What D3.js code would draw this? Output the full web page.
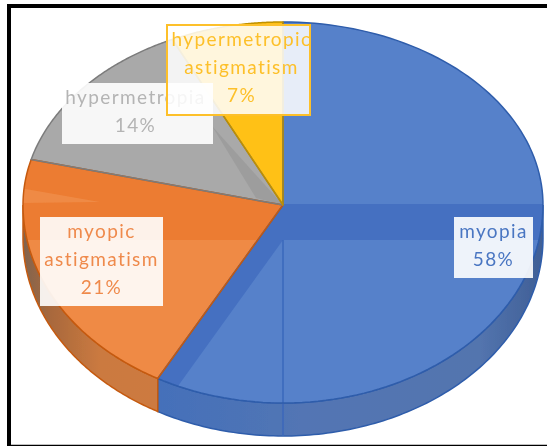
<!DOCTYPE html>
<html>
<head>
<meta charset="utf-8">
<script src="https://cdn.jsdelivr.net/npm/d3@7"></script>
<style>
    html, body { margin: 0; padding: 0; background: #fff; overflow: hidden; }
    svg { display: block; }
    text { font-family: Lato, "Open Sans", sans-serif; }
</style>
</head>
<body>
<svg id="drawing_region"></svg>
<script>
const categories = ['myopia', 'myopic astigmatism', 'hypermetropia', 'hypermetropic astigmatism'];
const values = [58, 21, 14, 7];
const percentLabels = ['58%', '21%', '14%', '7%'];
const labelLines = [['myopia'], ['myopic', 'astigmatism'], ['hypermetropia'], ['hypermetropic', 'astigmatism']];
const faceColors = ['#5681ca', '#ef8a45', '#a9a9a9', '#ffc114'];
const edgeColors = ['#2f5dab', '#c55a11', '#7c7c7c', '#bf9000'];
const textColors = ['#4a76c2', '#ef8a4c', '#b4b4b4', '#fdc02a'];

const width = 547;
const height = 446;
const cx = 283;
const cy = 205;
const rx = 260;
const ryTop = 183;
const ryBottom = 198;
const depth = 33;

// label boxes: x, y, w, h, in the same order as the categories
// dx nudges the text where it is not centred in its box
const boxes = [
    { x: 454, y: 217, w: 79, h: 61, dx: 0 },
    { x: 40, y: 217, w: 123, h: 89, dx: 0 },
    { x: 62, y: 83, w: 151, h: 61, dx: -2 },
    { x: 167, y: 25, w: 143, h: 90, dx: 3 }
];

const svg = d3.select('#drawing_region')
    .attr('width', width)
    .attr('height', height);

const defs = svg.append('defs');

// the reference is an upscaled screenshot, so everything is slightly soft
defs.append('filter').attr('id', 'soft')
    .attr('x', 0).attr('y', 0).attr('width', 1).attr('height', 1)
    .attr('filterUnits', 'objectBoundingBox')
    .append('feGaussianBlur').attr('stdDeviation', 0.55);

const chart = svg.append('g').attr('filter', 'url(#soft)');
chart.append('rect').attr('width', width).attr('height', height).attr('fill', '#fff');

// tilted pie: the near half of the ellipse is a little larger than the far half
const project = (a, dy = 0) => {
    const c = Math.cos(a);
    return [cx + rx * Math.sin(a), cy - (c > 0 ? ryTop : ryBottom) * c + dy];
};
const sample = (a0, a1) => d3.range(0, 121).map(i => a0 + (a1 - a0) * i / 120);
const line = d3.line();

const pie = d3.pie().sort(null)(values);

const facePath = d => line([[cx, cy], ...sample(d.startAngle, d.endAngle).map(a => project(a))]) + 'Z';

const wallPath = (a0, a1) => {
    const angles = sample(a0, a1);
    return line([...angles.map(a => project(a)), ...angles.reverse().map(a => project(a, depth))]) + 'Z';
};

// walls
const wallGradient = (id, stops) => {
    const g = defs.append('linearGradient').attr('id', id)
        .attr('gradientUnits', 'userSpaceOnUse')
        .attr('x1', stops[0][0]).attr('x2', stops[stops.length - 1][0])
        .attr('y1', 0).attr('y2', 0);
    stops.forEach(s => {
        g.append('stop')
            .attr('offset', (s[0] - stops[0][0]) / (stops[stops.length - 1][0] - stops[0][0]))
            .attr('stop-color', s[1]);
    });
};
wallGradient('wallBlue', [[157, '#4470ba'], [300, '#5275b4'], [480, '#5374ae'], [543, '#3f5f96']]);
wallGradient('wallOrange', [[23, '#80644f'], [50, '#a8683c'], [100, '#cb7a40'], [157, '#cd7a3f']]);

chart.append('path')
    .attr('d', wallPath(Math.PI / 2, pie[0].endAngle))
    .attr('fill', 'url(#wallBlue)')
    .attr('stroke', edgeColors[0])
    .attr('stroke-width', 1.5);

chart.append('path')
    .attr('d', wallPath(pie[1].startAngle, Math.PI * 1.5))
    .attr('fill', 'url(#wallOrange)')
    .attr('stroke', edgeColors[1])
    .attr('stroke-width', 1.5);

// top faces
pie.forEach((d, i) => {
    defs.append('clipPath').attr('id', `face${i}`)
        .append('path').attr('d', facePath(d));
});

chart.append('g').selectAll('path')
    .data(pie)
    .join('path')
    .attr('d', facePath)
    .attr('fill', (d, i) => faceColors[i]);

// shading on the faces
const shade = (i, points, fill) => {
    chart.append('path')
        .attr('clip-path', `url(#face${i})`)
        .attr('d', line(points) + 'Z')
        .attr('fill', fill);
};
shade(0, [[283, 204], [546, 204], [546, 240], [283, 240]], '#4470c1');
shade(0, [[283, 204], [150, 390], [178, 386], [283, 240]], '#4470c1');
shade(1, [[15, 150], [290, 150], [290, 240], [15, 240]], '#ec7b30');
shade(1, [[20, 188], [100, 202], [20, 203]], '#ef8a45');
shade(2, [[212, 126], [283, 205], [256, 198]], '#9d9d9d');

// seam under the centre and the face outlines
chart.append('line')
    .attr('x1', cx).attr('x2', cx)
    .attr('y1', 240).attr('y2', cy + ryBottom + depth)
    .attr('stroke', '#3a69bb')
    .attr('stroke-width', 1.5);

chart.append('g').selectAll('path')
    .data(pie)
    .join('path')
    .attr('d', facePath)
    .attr('fill', 'none')
    .attr('stroke', (d, i) => edgeColors[i])
    .attr('stroke-width', 1.5)
    .attr('stroke-linejoin', 'round');

// data labels
const labels = chart.append('g').selectAll('g')
    .data(categories)
    .join('g')
    .attr('transform', (d, i) => `translate(${boxes[i].x}, ${boxes[i].y})`);

labels.append('rect')
    .attr('width', (d, i) => boxes[i].w)
    .attr('height', (d, i) => boxes[i].h)
    .attr('fill', '#fff')
    .attr('fill-opacity', (d, i) => i === 3 ? 0.86 : 0.9)
    .attr('stroke', (d, i) => i === 3 ? '#fdc02a' : 'none')
    .attr('stroke-width', 2);

labels.each(function (d, i) {
    const rows = [...labelLines[i], percentLabels[i]];
    d3.select(this).selectAll('text')
        .data(rows)
        .join('text')
        .attr('x', boxes[i].w / 2 + boxes[i].dx)
        .attr('y', (r, j) => 21 + j * 28)
        .attr('text-anchor', 'middle')
        .attr('fill', textColors[i])
        .style('font-size', '19px')
        .style('letter-spacing', '1.4px')
        .text(r => r);
});

// picture frame, top and left and bottom only
svg.append('path')
    .attr('d', `M9,${height}V6H${width}`)
    .attr('fill', 'none')
    .attr('stroke', '#000')
    .attr('stroke-width', 4);
svg.append('path')
    .attr('d', `M9,445.5H${width}`)
    .attr('stroke', '#000')
    .attr('stroke-width', 1.5);
</script>
</body>
</html>
